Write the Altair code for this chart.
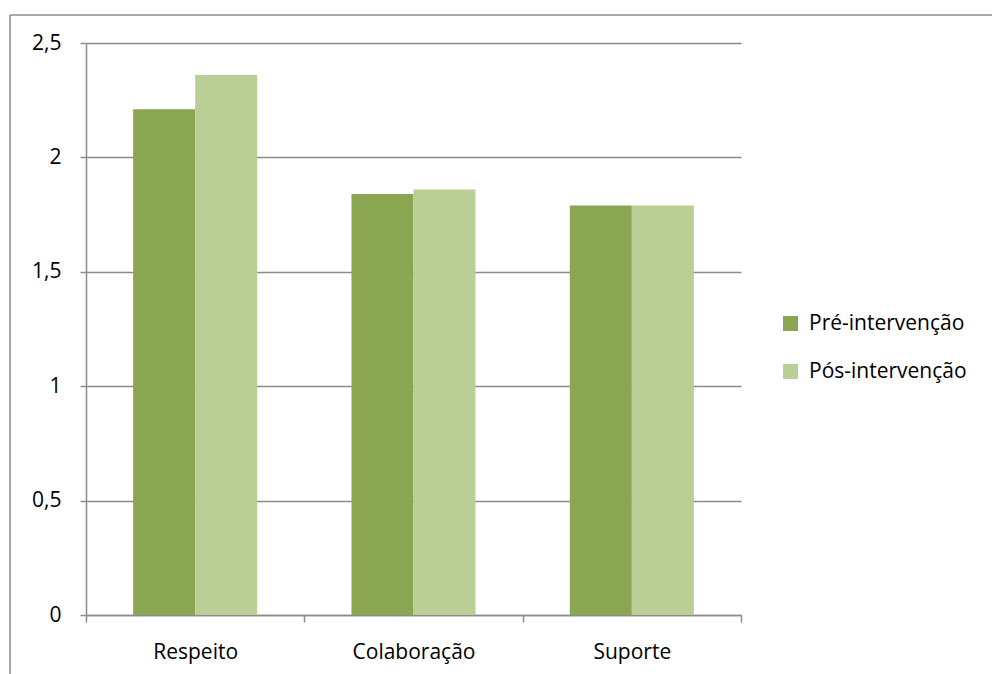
import altair as alt
import pandas as pd

categories = ["Respeito", "Colaboração", "Suporte"]
series = ["Pré-intervenção", "Pós-intervenção"]
pre_values = [2.21, 1.84, 1.79]
pos_values = [2.36, 1.86, 1.79]
colors = ["#8BA650", "#B9CF96"]

rows = []
for c, v in zip(categories, pre_values):
    rows.append({"categoria": c, "serie": series[0], "valor": v})
for c, v in zip(categories, pos_values):
    rows.append({"categoria": c, "serie": series[1], "valor": v})
df = pd.DataFrame(rows)

FONT = "Open Sans"
GRAY = "#8C8C8C"
FS = 21

bars = alt.Chart(df).mark_bar().encode(
    x=alt.X("categoria:N", sort=categories, title=None,
            scale=alt.Scale(paddingInner=0, paddingOuter=0),
            axis=alt.Axis(labelAngle=0, labelFont=FONT, labelFontSize=FS, labelColor="#000",
                          labelPadding=19, domainColor=GRAY, domainWidth=1.5,
                          tickColor=GRAY, tickWidth=1.5, tickSize=7, tickBand="extent")),
    xOffset=alt.XOffset("serie:N", sort=series,
                        scale=alt.Scale(paddingInner=0, paddingOuter=0.76)),
    y=alt.Y("valor:Q", title=None,
            scale=alt.Scale(domain=[0, 2.5]),
            axis=alt.Axis(values=[0, 0.5, 1, 1.5, 2, 2.5],
                          labelExpr="replace(toString(datum.value), '.', ',')",
                          labelFont=FONT, labelFontSize=FS, labelColor="#000", labelPadding=19,
                          domainColor=GRAY, domainWidth=1.5, gridColor=GRAY, gridWidth=1.5,
                          tickColor=GRAY, tickWidth=1.5, tickSize=6)),
    color=alt.Color("serie:N", sort=series, title=None,
                    scale=alt.Scale(domain=series, range=colors),
                    legend=alt.Legend(orient="none", legendX=694, legendY=270,
                                      symbolType="square", symbolSize=225,
                                      symbolStrokeWidth=0, labelFont=FONT,
                                      labelFontSize=FS, labelColor="#000",
                                      rowPadding=26, labelOffset=8)),
)

frame = alt.Chart(pd.DataFrame({"k": [0]})).mark_rule(color=GRAY, strokeWidth=1.5).encode(
    x=alt.value(-76), x2=alt.value(910), y=alt.value(-28), y2=alt.value(-28)
)
frame2 = alt.Chart(pd.DataFrame({"k": [0]})).mark_rule(color=GRAY, strokeWidth=1.5).encode(
    x=alt.value(-76), x2=alt.value(-76), y=alt.value(-28), y2=alt.value(640)
)

chart = alt.layer(bars, frame, frame2).properties(
    width=655, height=572,
    padding={"left": 86, "top": 43, "right": 251, "bottom": 59},
    autosize=alt.AutoSizeParams(type="none"),
    background="white",
).configure_view(stroke=None)

chart.save("out.html", embed_options={"renderer": "svg", "actions": False})
